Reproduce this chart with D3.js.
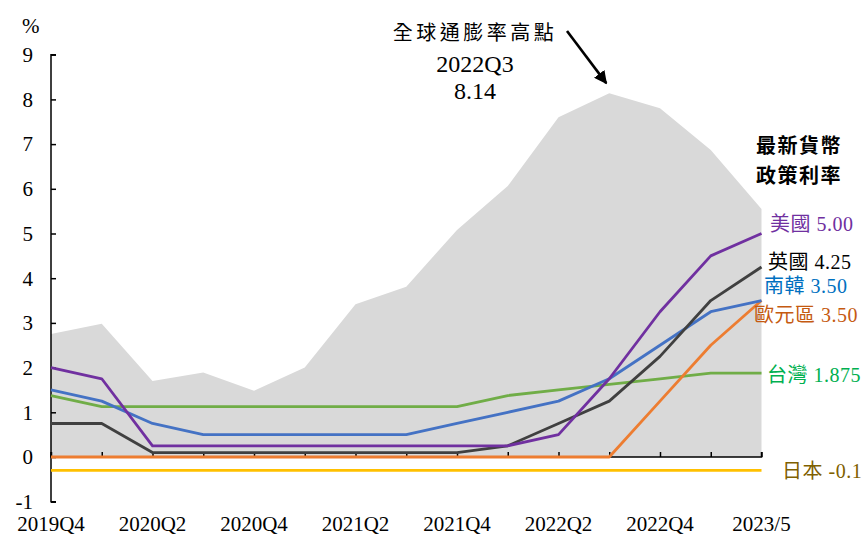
<!DOCTYPE html>
<html><head><meta charset="utf-8">
<script src="https://cdn.jsdelivr.net/npm/d3@7"></script>
<style>body{margin:0;background:#fff}svg{display:block}</style>
</head><body><svg id="c" width="863" height="536"></svg>
<script>
const categories = ["2019Q4","2020Q1","2020Q2","2020Q3","2020Q4","2021Q1","2021Q2","2021Q3","2021Q4","2022Q1","2022Q2","2022Q3","2022Q4","2023Q1","2023/5"];
const xTickLabels = ["2019Q4","2020Q2","2020Q4","2021Q2","2021Q4","2022Q2","2022Q4","2023/5"];
const yTicks = [-1,0,1,2,3,4,5,6,7,8,9];
const globalInflation = [2.75,2.98,1.70,1.89,1.48,2.00,3.42,3.81,5.08,6.06,7.60,8.14,7.80,6.87,5.55];
const usRate     = [2.0,1.75,0.25,0.25,0.25,0.25,0.25,0.25,0.25,0.25,0.5,1.75,3.25,4.5,5.0];
const ukRate     = [0.75,0.75,0.1,0.1,0.1,0.1,0.1,0.1,0.1,0.25,0.75,1.25,2.25,3.5,4.25];
const koreaRate  = [1.5,1.25,0.75,0.5,0.5,0.5,0.5,0.5,0.75,1.0,1.25,1.75,2.5,3.25,3.5];
const euroRate   = [0,0,0,0,0,0,0,0,0,0,0,0,1.25,2.5,3.5];
const taiwanRate = [1.375,1.125,1.125,1.125,1.125,1.125,1.125,1.125,1.125,1.375,1.5,1.625,1.75,1.875,1.875];
const japanRate  = [-0.3,-0.3,-0.3,-0.3,-0.3,-0.3,-0.3,-0.3,-0.3,-0.3,-0.3,-0.3,-0.3,-0.3,-0.3];
const seriesLabels = ["歐元區 3.50","日本 -0.1","台灣 1.875","南韓 3.50","英國 4.25","美國 5.00"];
const peakLabel = ["全球通膨率高點","2022Q3","8.14"];
const panelTitle = ["最新貨幣","政策利率"];

const svg = d3.select("#c");
const x = d3.scalePoint().domain(categories).range([51, 761.5]);
const y = d3.scaleLinear().domain([-1, 9]).range([501.7, 54.7]);
const serif = "'Liberation Serif','Times New Roman','Noto Sans CJK TC',serif";

// inflation area
svg.append("path")
  .attr("fill", "#D9D9D9")
  .attr("d", d3.area().x((d,i)=>x(categories[i])).y0(y(0)).y1(d=>y(d))(globalInflation));

// x axis at 0, ticks upward
const xAxis = d3.axisTop(x).tickSize(5).tickFormat("");
const gx = svg.append("g").attr("transform", `translate(0,${y(0)})`).call(xAxis);
gx.select(".domain").attr("d", `M${x(categories[0])},-5V0H${x(categories[14])}V-5`).attr("stroke","#000").attr("stroke-width",1.5);
gx.selectAll(".tick line").attr("stroke","#000").attr("stroke-width",1.5);

// y axis, ticks inward
const yAxis = d3.axisRight(y).tickValues(yTicks).tickSize(5).tickFormat("");
const gy = svg.append("g").attr("transform", `translate(51,0)`).call(yAxis);
gy.select(".domain").attr("stroke","#000").attr("stroke-width",1.5).attr("d", `M5,${y(9)}H0V${y(-1)}H5`);
gy.selectAll(".tick line").attr("stroke","#000").attr("stroke-width",1.5);

// y tick labels
svg.append("g").selectAll("text").data(yTicks).join("text")
  .attr("x", 33).attr("y", d=>y(d)).attr("dy","0.35em")
  .attr("text-anchor","end").attr("font-family",serif).attr("font-size",21).attr("fill","#000")
  .text(d=>d);
svg.append("text").attr("x",22).attr("y",33).attr("font-family",serif).attr("font-size",21).text("%");

// x tick labels
svg.append("g").selectAll("text").data(xTickLabels).join("text")
  .attr("x", d=>x(d)).attr("y", 531).attr("text-anchor","middle")
  .attr("font-family",serif).attr("font-size",21).text(d=>d);

// lines
const line = d3.line().x((d,i)=>x(categories[i])).y(d=>y(d));
const series = [
  {v: japanRate, c:"#FFC000"},
  {v: taiwanRate, c:"#70AD47"},
  {v: euroRate, c:"#ED7D31"},
  {v: koreaRate, c:"#4472C4"},
  {v: ukRate, c:"#404040"},
  {v: usRate, c:"#7030A0"}
];
svg.append("g").selectAll("path").data(series).join("path")
  .attr("fill","none").attr("stroke",d=>d.c).attr("stroke-width",2.8)
  .attr("stroke-linejoin","round").attr("d", d=>line(d.v));

// right labels
const labelPos = [
  {t: seriesLabels[5], x:770, y:231, c:"#7030A0"},
  {t: seriesLabels[4], x:768, y:269, c:"#000000"},
  {t: seriesLabels[3], x:764, y:293, c:"#0070C0"},
  {t: seriesLabels[0], x:754, y:322, c:"#C55A11"},
  {t: seriesLabels[2], x:767, y:382, c:"#00B050"},
  {t: seriesLabels[1], x:782, y:478, c:"#7F6000"}
];
svg.append("g").selectAll("text").data(labelPos).join("text")
  .attr("x",d=>d.x).attr("y",d=>d.y).attr("fill",d=>d.c)
  .attr("font-family",serif).attr("font-size",20).attr("letter-spacing",0.5)
  .text(d=>d.t);

// panel title
svg.append("g").selectAll("text").data(panelTitle).join("text")
  .attr("x",756).attr("y",(d,i)=>153+i*30).attr("font-family","'Noto Sans CJK TC',sans-serif")
  .attr("font-weight","bold").attr("font-size",20).attr("letter-spacing",1.5).attr("fill","#000").text(d=>d);

// peak annotation
svg.append("text").attr("x",475).attr("y",40).attr("text-anchor","middle")
  .attr("font-family",serif).attr("font-size",20).attr("letter-spacing",3.5).text(peakLabel[0]);
svg.append("text").attr("x",475).attr("y",72).attr("text-anchor","middle")
  .attr("font-family",serif).attr("font-size",24).text(peakLabel[1]);
svg.append("text").attr("x",475).attr("y",99).attr("text-anchor","middle")
  .attr("font-family",serif).attr("font-size",24).text(peakLabel[2]);

// arrow
svg.append("defs").append("marker").attr("id","ah").attr("viewBox","0 0 10 10")
  .attr("refX",9).attr("refY",5).attr("markerWidth",5).attr("markerHeight",5)
  .attr("markerUnits","strokeWidth").attr("orient","auto")
  .append("path").attr("d","M0,0L10,5L0,10z").attr("fill","#000");
const peakX = x(categories[11]);
svg.append("line").attr("x1",567).attr("y1",31).attr("x2",peakX-3).attr("y2",y(8.14)-10)
  .attr("stroke","#000").attr("stroke-width",2.6).attr("marker-end","url(#ah)");
</script></body></html>
